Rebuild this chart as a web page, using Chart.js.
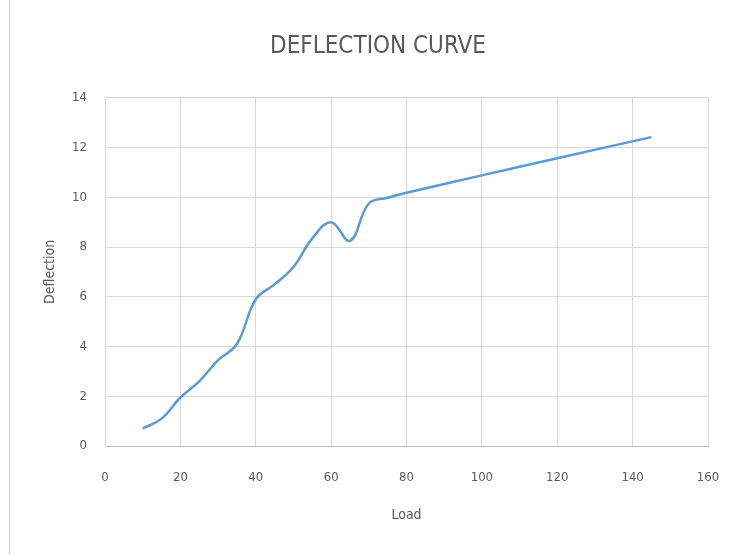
<!DOCTYPE html>
<html>
<head>
<meta charset="utf-8">
<script src="https://cdn.jsdelivr.net/npm/chart.js@4"></script>
<style>
  html, body { margin: 0; padding: 0; background: #fff; }
  #wrap { position: relative; width: 729px; height: 555px; }
  #frame { position: absolute; left: 9px; top: 0; width: 1px; height: 555px; background: #d0d0d0; }
</style>
</head>
<body>
<div id="wrap">
  <div id="frame"></div>
  <canvas id="chart" width="729" height="555"></canvas>
</div>
<script>
// load values and measured deflection
const loads = [10, 15, 20, 25, 30, 35, 40, 45, 50, 55, 60, 65, 70, 75, 80, 100, 120, 145];
const deflections = [0.7, 1.1, 1.95, 2.6, 3.45, 4.1, 5.9, 6.5, 7.2, 8.35, 9.0, 8.25, 9.75, 9.98, 10.18, 10.88, 11.57, 12.42];
const xTicks = [0, 20, 40, 60, 80, 100, 120, 140, 160];
const yTicks = [0, 2, 4, 6, 8, 10, 12, 14];

const font = '"Liberation Sans Narrow", "DejaVu Sans Condensed", sans-serif';
const textColor = '#595959';
const gridColor = '#d9d9d9';

const points = loads.map((x, i) => ({ x: x, y: deflections[i] }));

new Chart(document.getElementById('chart').getContext('2d'), {
    type: 'scatter',
    data: {
        datasets: [{
            label: 'Deflection',
            data: points,
            showLine: true,
            borderColor: '#5b9bd5',
            borderWidth: 2.5,
            pointRadius: 0,
            tension: 0.4,
            fill: false
        }]
    },
    options: {
        responsive: false,
        animation: false,
        layout: { padding: { left: 48, right: 21, top: 0, bottom: 20 } },
        plugins: {
            legend: { display: false },
            tooltip: { enabled: false },
            title: {
                display: true,
                text: 'DEFLECTION CURVE',
                color: textColor,
                font: { family: font, size: 24, weight: 'normal' },
                padding: { top: 32, bottom: 37 }
            }
        },
        scales: {
            x: {
                type: 'linear',
                min: 0,
                max: 160,
                afterBuildTicks: scale => { scale.ticks = xTicks.map(v => ({ value: v })); },
                afterFit: scale => {
                    scale.height = 89;
                    scale.paddingLeft = 0;
                    scale.paddingRight = 0;
                },
                ticks: { color: textColor, font: { family: font, size: 13 }, padding: 24 },
                grid: { color: gridColor, lineWidth: 1, drawTicks: false },
                border: { color: '#bfbfbf' },
                title: {
                    display: true,
                    text: 'Load',
                    color: textColor,
                    font: { family: font, size: 14 },
                    padding: { top: 9, bottom: 11 }
                }
            },
            y: {
                type: 'linear',
                min: 0,
                max: 14,
                afterBuildTicks: scale => { scale.ticks = yTicks.map(v => ({ value: v })); },
                afterFit: scale => {
                    scale.width = 57;
                    scale.paddingTop = 0;
                    scale.paddingBottom = 0;
                },
                ticks: { color: textColor, font: { family: font, size: 13 }, padding: 18 },
                grid: { color: gridColor, lineWidth: 1, drawTicks: false },
                border: { color: gridColor },
                title: {
                    display: true,
                    text: 'Deflection',
                    color: textColor,
                    font: { family: font, size: 14 },
                    padding: { top: -6, bottom: 0 }
                }
            }
        }
    }
});
</script>
</body>
</html>
